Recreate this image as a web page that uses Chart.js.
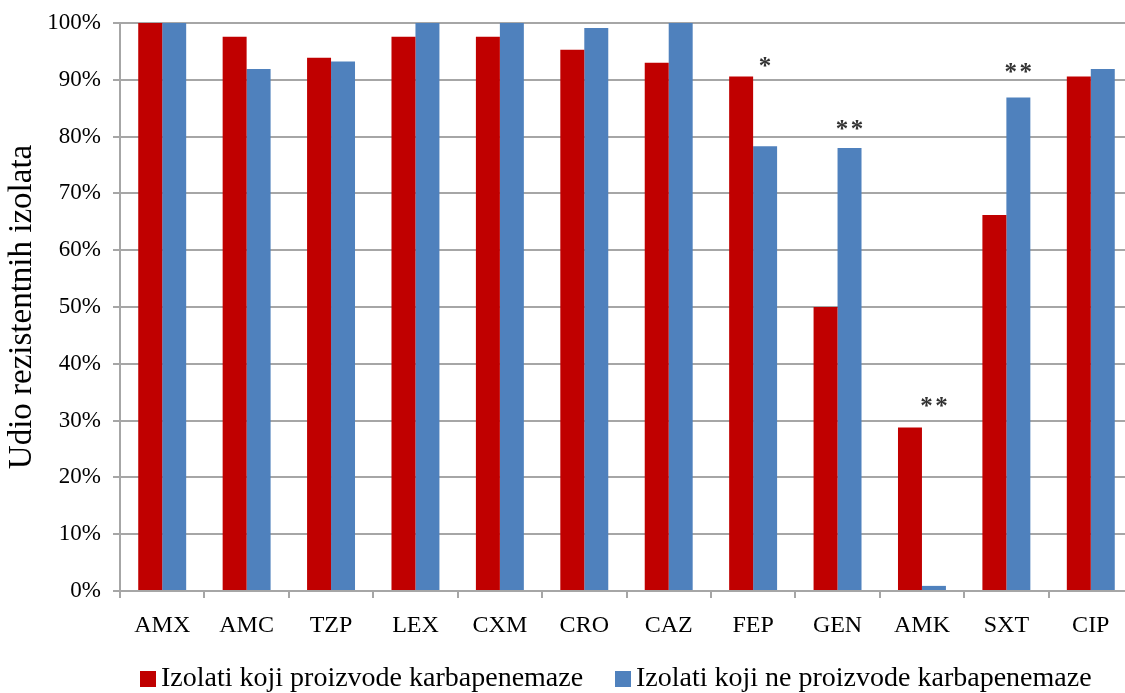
<!DOCTYPE html>
<html>
<head>
<meta charset="utf-8">
<script src="https://cdn.jsdelivr.net/npm/chart.js@4"></script>
<style>
html,body{margin:0;padding:0;background:#fff;overflow:hidden;}
#wrap{width:1134px;height:693px;position:relative;}
</style>
</head>
<body>
<div id="wrap"><canvas id="c"></canvas></div>
<script>
const categories = ['AMX','AMC','TZP','LEX','CXM','CRO','CAZ','FEP','GEN','AMK','SXT','CIP'];
const producers = [100, 97.6, 93.9, 97.6, 97.6, 95.3, 93.0, 90.6, 50.0, 28.8, 66.2, 90.6];
const nonProducers = [100, 91.9, 93.2, 100, 100, 99.1, 100, 78.3, 78.0, 0.9, 86.9, 91.9];
const seriesNames = ['Izolati koji proizvode karbapenemaze', 'Izolati koji ne proizvode karbapenemaze'];
const yTicks = [0,10,20,30,40,50,60,70,80,90,100];
const starMarks = ['','','','','','','','*','**','**','**',''];
const starLevels = [null,null,null,null,null,null,null,93.0,82.0,33.1,92.0,null];
const yTitle = 'Udio rezistentnih izolata';

const SERIF = '"Liberation Serif", "Times New Roman", serif';
const GRID = '#a6a6a6';

const starPlugin = {
  id: 'stars',
  afterDatasetsDraw(chart) {
    const ctx = chart.ctx;
    const meta = chart.getDatasetMeta(1);
    const ys = chart.scales.y;
    ctx.save();
    ctx.fillStyle = '#333';
    ctx.font = 'bold 25px ' + SERIF;
    ctx.textAlign = 'center';
    ctx.textBaseline = 'middle';
    starMarks.forEach((s, i) => {
      if (!s) return;
      const x = meta.data[i].x;
      const y = ys.getPixelForValue(starLevels[i]);
      const chars = s.split('');
      const step = 15;
      const start = x - (chars.length - 1) * step / 2;
      chars.forEach((c, k) => ctx.fillText(c, start + k * step, y + 5));
    });
    ctx.restore();
  }
};

const legendPlugin = {
  id: 'customLegend',
  afterDraw(chart) {
    const ctx = chart.ctx;
    ctx.save();
    ctx.font = '28px ' + SERIF;
    ctx.textBaseline = 'middle';
    const boxes = [140, 615];
    chart.data.datasets.forEach((ds, i) => {
      ctx.fillStyle = ds.backgroundColor;
      ctx.fillRect(boxes[i], 671, 16, 16);
      ctx.fillStyle = '#000';
      ctx.fillText(ds.label, boxes[i] + 21, 679);
    });
    ctx.restore();
  }
};

new Chart(document.getElementById('c'), {
  type: 'bar',
  data: {
    labels: categories,
    datasets: [
      { label: seriesNames[0], data: producers, backgroundColor: '#c00000', categoryPercentage: 0.568, barPercentage: 1 },
      { label: seriesNames[1], data: nonProducers, backgroundColor: '#4f81bd', categoryPercentage: 0.568, barPercentage: 1 }
    ]
  },
  options: {
    responsive: true,
    maintainAspectRatio: false,
    animation: false,
    layout: { padding: { top: 23, right: 1, left: 0, bottom: 0 } },
    plugins: { legend: { display: false }, tooltip: { enabled: false } },
    scales: {
      x: {
        afterFit(scale) { scale.height = 102; scale.paddingLeft = 0; scale.paddingRight = 0; },
        grid: { offset: true, drawOnChartArea: false, drawTicks: true, tickLength: 7, color: GRID, lineWidth: 2 },
        border: { color: GRID, width: 2 },
        ticks: { color: '#000', font: { family: SERIF, size: 24 }, padding: 13, maxRotation: 0, autoSkip: false }
      },
      y: {
        min: 0, max: 100,
        afterFit(scale) { scale.width = 120; scale.paddingTop = 0; scale.paddingBottom = 0; },
        afterBuildTicks(scale) { scale.ticks = yTicks.map(v => ({ value: v })); },
        grid: { color: GRID, lineWidth: 2, tickLength: 7 },
        border: { color: GRID, width: 2 },
        ticks: { color: '#000', font: { family: SERIF, size: 23 }, padding: 12, callback: v => v + '%' },
        title: { display: true, text: yTitle, color: '#000', font: { family: SERIF, size: 33 }, padding: { top: 3, bottom: 0 } }
      }
    }
  },
  plugins: [starPlugin, legendPlugin]
});
</script>
</body>
</html>
